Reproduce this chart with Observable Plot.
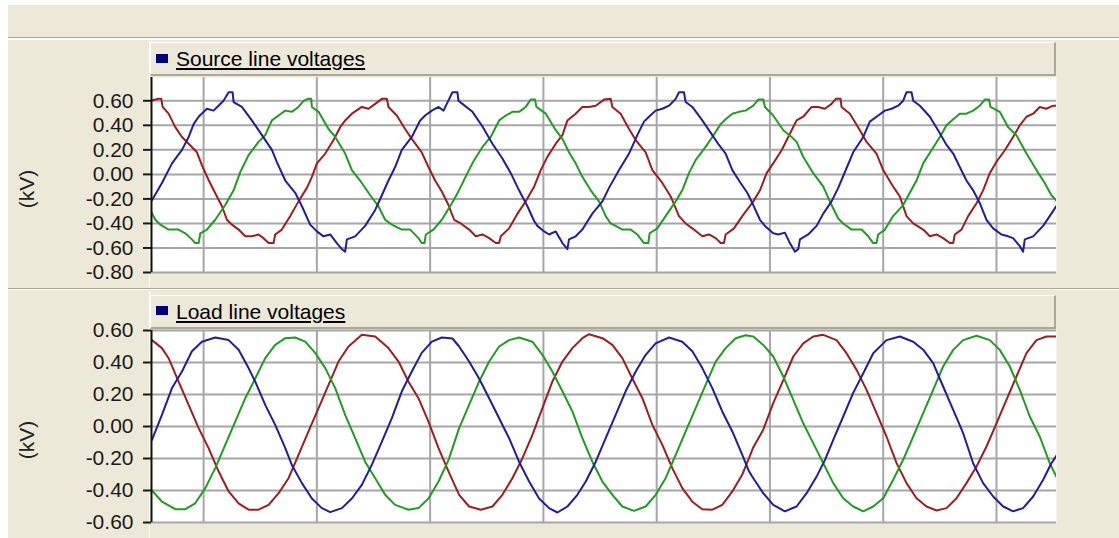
<!DOCTYPE html>
<html><head><meta charset="utf-8">
<script src="https://cdn.jsdelivr.net/npm/d3@7"></script>
<script src="https://cdn.jsdelivr.net/npm/@observablehq/plot@0.6"></script>
<style>
html,body{margin:0;padding:0;background:#fff;}
body{position:relative;width:1119px;height:538px;overflow:hidden;font-family:"Liberation Sans",Arial,sans-serif;}
.abs{position:absolute;}
#toolbar{left:8px;top:5px;width:1111px;height:32px;background:#ECE9D8;border-bottom:1px solid #ACA899;}
#p1{left:8px;top:39px;width:1111px;height:248px;background:#ECE9D8;border-top:1px solid #fff;border-bottom:1px solid #ACA899;}
#p2{left:8px;top:289px;width:1111px;height:249px;background:#ECE9D8;border-top:1px solid #fff;}
.vline{left:149px;width:1px;background:#fff;}
.hdr{left:150px;width:903px;height:31px;background:#ECE9D8;border-top:1px solid #fff;border-left:1px solid #fff;border-right:2px solid #ACA899;border-bottom:2px solid #ACA899;}
.sw{left:156px;width:12px;height:9px;background:#000080;}
.ttl{left:176px;font-size:21px;line-height:20px;color:#000;text-decoration:underline;white-space:nowrap;}
.ylab{font-size:21px;line-height:20px;color:#222;white-space:nowrap;transform:translate(-50%,-50%) rotate(-90deg);}
.chart{left:0;}
</style></head>
<body>
<div id="toolbar" class="abs"></div>
<div id="p1" class="abs"></div>
<div id="p2" class="abs"></div>
<div class="abs vline" style="top:41px;height:246px"></div>
<div class="abs vline" style="top:291px;height:247px"></div>
<div class="abs hdr" style="top:42px"></div>
<div class="abs hdr" style="top:295px"></div>
<div class="abs sw" style="top:54px"></div>
<div class="abs ttl" style="top:49px">Source line voltages</div>
<div class="abs sw" style="top:306px"></div>
<div class="abs ttl" style="top:302px">Load line voltages</div>
<div class="abs ylab" style="left:27px;top:189px">(kV)</div>
<div class="abs ylab" style="left:27px;top:440px">(kV)</div>
<div id="c1" class="abs chart" style="top:67px"></div>
<div id="c2" class="abs chart" style="top:320px"></div>
<script>
// ---- scales / ticks ----
const xDomain = [5.4, 85.3];               // time (ms)
const gridXTicks = [10, 20, 30, 40, 50, 60, 70, 80];
const sourceYDomain = [-0.8, 0.79];
const sourceYTicks = [0.6, 0.4, 0.2, 0, -0.2, -0.4, -0.6, -0.8];
const loadYDomain = [-0.6, 0.6];
const loadYTicks = [0.6, 0.4, 0.2, 0, -0.2, -0.4, -0.6];

// ---- Source line voltages (kV) : [time ms, value] ----
const sourceBlue = [[5.44,-0.21],[6.32,-0.07],[7.21,0.09],[8.09,0.20],[8.68,0.305],[9.12,0.41],[9.56,0.47],[10.29,0.535],[10.88,0.52],[11.32,0.56],[11.76,0.60],[12.21,0.67],[12.56,0.67],[12.65,0.59],[13.38,0.55],[14.26,0.44],[15.15,0.32],[16.03,0.20],[16.47,0.10],[17.21,-0.05],[18.09,-0.15],[18.68,-0.26],[19.41,-0.41],[20.00,-0.465],[20.59,-0.505],[21.18,-0.49],[21.76,-0.56],[22.21,-0.61],[22.50,-0.63],[22.65,-0.53],[23.38,-0.505],[24.26,-0.42],[25.15,-0.29],[25.74,-0.17],[26.32,-0.05],[26.91,0.06],[27.50,0.20],[28.38,0.305],[29.12,0.44],[29.56,0.48],[30.15,0.52],[30.74,0.55],[31.18,0.52],[31.47,0.575],[31.97,0.67],[32.41,0.67],[32.50,0.60],[32.85,0.575],[33.74,0.51],[34.62,0.39],[35.50,0.25],[36.38,0.13],[37.12,0.01],[37.85,-0.13],[38.59,-0.26],[39.18,-0.38],[39.47,-0.42],[40.06,-0.465],[40.50,-0.49],[41.09,-0.465],[41.68,-0.56],[42.12,-0.61],[42.26,-0.53],[42.85,-0.505],[43.44,-0.45],[44.32,-0.32],[45.21,-0.22],[45.79,-0.11],[46.68,0.035],[47.56,0.17],[48.29,0.32],[48.88,0.43],[49.32,0.47],[49.91,0.52],[50.50,0.535],[51.09,0.56],[51.68,0.616],[51.97,0.67],[52.41,0.67],[52.56,0.59],[53.15,0.55],[54.03,0.44],[54.91,0.32],[55.50,0.24],[56.09,0.17],[56.68,0.035],[57.41,-0.07],[58.00,-0.15],[58.53,-0.25],[59.12,-0.37],[59.56,-0.42],[60.29,-0.48],[60.74,-0.49],[61.32,-0.475],[61.76,-0.56],[62.21,-0.63],[62.50,-0.61],[62.65,-0.53],[63.38,-0.49],[64.12,-0.42],[64.71,-0.32],[65.44,-0.22],[66.03,-0.11],[66.76,0.05],[67.35,0.18],[68.24,0.305],[68.82,0.43],[69.56,0.48],[70.15,0.52],[70.74,0.535],[71.32,0.56],[71.76,0.60],[72.06,0.67],[72.50,0.67],[72.65,0.60],[73.24,0.56],[74.12,0.47],[75.00,0.335],[75.59,0.24],[76.18,0.17],[76.76,0.06],[77.35,-0.05],[77.94,-0.13],[78.53,-0.235],[79.12,-0.37],[79.71,-0.44],[80.44,-0.49],[81.03,-0.505],[81.47,-0.52],[82.06,-0.585],[82.35,-0.63],[82.50,-0.53],[83.24,-0.505],[84.12,-0.42],[84.85,-0.32],[85.35,-0.25]];

const sourceGreen = [[5.29,-0.29],[5.74,-0.37],[6.18,-0.41],[6.91,-0.45],[7.79,-0.45],[8.38,-0.48],[8.97,-0.53],[9.26,-0.56],[9.56,-0.56],[9.71,-0.48],[10.29,-0.45],[11.03,-0.37],[11.91,-0.25],[12.65,-0.13],[13.24,0.02],[13.97,0.157],[14.85,0.265],[15.44,0.32],[16.03,0.44],[16.62,0.48],[17.21,0.52],[17.79,0.51],[18.38,0.55],[18.82,0.60],[19.21,0.616],[19.50,0.616],[19.56,0.55],[20.15,0.51],[21.03,0.37],[21.62,0.305],[22.50,0.17],[23.09,0.035],[23.97,-0.07],[24.71,-0.17],[25.44,-0.26],[26.03,-0.37],[26.62,-0.41],[27.50,-0.45],[28.24,-0.45],[28.97,-0.52],[29.26,-0.56],[29.50,-0.56],[29.62,-0.49],[30.29,-0.45],[31.03,-0.37],[31.76,-0.26],[32.26,-0.18],[32.71,-0.10],[33.29,0.01],[33.88,0.116],[34.62,0.224],[35.35,0.305],[36.09,0.44],[36.68,0.48],[37.26,0.51],[37.85,0.51],[38.44,0.55],[38.88,0.61],[39.26,0.61],[39.38,0.55],[40.21,0.495],[41.09,0.36],[41.68,0.29],[42.26,0.18],[42.85,0.09],[43.44,-0.02],[44.18,-0.13],[44.91,-0.22],[45.50,-0.34],[45.94,-0.40],[46.38,-0.42],[46.97,-0.45],[47.71,-0.45],[48.29,-0.49],[48.88,-0.56],[49.26,-0.56],[49.38,-0.48],[50.06,-0.44],[50.79,-0.34],[51.68,-0.22],[52.26,-0.13],[52.85,0.01],[53.44,0.116],[54.32,0.224],[54.91,0.305],[55.65,0.41],[56.09,0.45],[56.68,0.495],[57.26,0.51],[57.85,0.52],[58.53,0.56],[58.97,0.61],[59.41,0.61],[59.56,0.55],[60.29,0.48],[61.18,0.36],[61.91,0.305],[62.35,0.265],[62.94,0.143],[63.82,0.01],[64.71,-0.10],[65.44,-0.25],[66.03,-0.36],[66.47,-0.40],[67.21,-0.45],[68.09,-0.45],[68.68,-0.505],[69.12,-0.56],[69.41,-0.56],[69.56,-0.49],[70.15,-0.45],[70.88,-0.34],[71.76,-0.25],[72.35,-0.15],[72.94,-0.05],[73.53,0.09],[74.26,0.197],[75.00,0.305],[75.59,0.40],[76.18,0.45],[76.76,0.495],[77.35,0.495],[77.94,0.52],[78.53,0.56],[78.97,0.61],[79.35,0.61],[79.47,0.55],[80.29,0.51],[81.03,0.385],[81.76,0.32],[82.65,0.17],[83.53,0.035],[84.26,-0.07],[84.85,-0.17],[85.35,-0.22]];

const sourceRed = [[5.29,0.60],[6.03,0.616],[6.26,0.616],[6.38,0.55],[6.91,0.495],[7.50,0.385],[8.09,0.305],[8.68,0.25],[9.41,0.18],[9.85,0.076],[10.44,-0.046],[11.03,-0.154],[11.62,-0.26],[12.06,-0.37],[12.50,-0.41],[13.09,-0.45],[13.68,-0.505],[14.26,-0.505],[14.85,-0.49],[15.29,-0.52],[15.74,-0.56],[16.18,-0.56],[16.32,-0.49],[16.91,-0.45],[17.65,-0.34],[18.38,-0.22],[19.12,-0.11],[19.56,-0.02],[20.00,0.09],[20.74,0.17],[21.47,0.28],[22.06,0.385],[22.50,0.44],[23.09,0.495],[23.97,0.55],[24.56,0.535],[25.15,0.575],[25.74,0.616],[26.18,0.616],[26.32,0.55],[27.06,0.48],[27.79,0.37],[28.38,0.29],[29.26,0.18],[29.85,0.06],[30.44,-0.05],[31.03,-0.14],[31.62,-0.25],[32.12,-0.37],[32.71,-0.40],[33.44,-0.45],[34.03,-0.505],[34.62,-0.49],[35.21,-0.52],[35.79,-0.56],[36.09,-0.56],[36.24,-0.505],[36.97,-0.44],[37.71,-0.32],[38.44,-0.22],[39.18,-0.10],[39.76,0.035],[40.35,0.143],[41.09,0.25],[41.68,0.32],[42.12,0.44],[42.85,0.495],[43.44,0.55],[44.03,0.55],[44.62,0.56],[45.35,0.61],[45.94,0.616],[46.09,0.55],[46.82,0.495],[47.56,0.37],[48.15,0.28],[49.03,0.18],[49.62,0.035],[50.50,-0.07],[51.24,-0.18],[51.97,-0.34],[52.56,-0.40],[53.29,-0.45],[54.03,-0.505],[54.62,-0.49],[55.21,-0.52],[55.65,-0.56],[55.94,-0.56],[56.09,-0.49],[56.82,-0.44],[57.56,-0.34],[58.53,-0.22],[59.12,-0.13],[59.71,0.01],[60.29,0.09],[61.03,0.197],[61.62,0.305],[62.35,0.44],[62.94,0.47],[63.68,0.55],[64.26,0.55],[64.85,0.535],[65.44,0.575],[65.82,0.616],[66.24,0.616],[66.32,0.55],[67.06,0.495],[67.94,0.36],[68.53,0.265],[69.41,0.17],[70.00,0.035],[70.88,-0.10],[71.47,-0.18],[72.06,-0.34],[72.65,-0.40],[73.53,-0.45],[74.12,-0.505],[74.71,-0.49],[75.29,-0.52],[75.88,-0.56],[76.18,-0.56],[76.32,-0.49],[76.91,-0.45],[77.50,-0.34],[78.24,-0.235],[78.82,-0.13],[79.41,0.01],[80.00,0.103],[80.74,0.197],[81.47,0.305],[82.06,0.40],[82.65,0.47],[83.24,0.495],[83.82,0.55],[84.41,0.535],[85.00,0.56],[85.35,0.56]];

// ---- Load line voltages (kV) : [time ms, value] ----
const loadBlue = [[5.44,-0.083],[6.32,0.073],[7.21,0.24],[8.09,0.344],[8.97,0.47],[9.85,0.53],[11.03,0.556],[12.21,0.54],[13.09,0.48],[13.97,0.365],[14.56,0.28],[15.44,0.135],[16.32,0.01],[17.21,-0.135],[17.79,-0.24],[18.68,-0.354],[19.56,-0.45],[20.44,-0.51],[21.18,-0.535],[22.21,-0.51],[23.09,-0.45],[23.97,-0.365],[24.85,-0.24],[25.74,-0.094],[26.62,0.052],[27.50,0.22],[28.38,0.344],[29.26,0.46],[30.15,0.53],[31.03,0.556],[31.97,0.55],[32.56,0.50],[33.44,0.406],[34.32,0.30],[35.21,0.177],[36.09,0.052],[36.97,-0.073],[37.85,-0.22],[38.74,-0.344],[39.62,-0.45],[40.50,-0.51],[41.24,-0.5375],[42.12,-0.50],[43.00,-0.427],[43.74,-0.344],[44.62,-0.22],[45.50,-0.073],[46.38,0.073],[47.26,0.22],[48.15,0.344],[49.03,0.448],[49.91,0.52],[51.09,0.556],[52.26,0.53],[53.15,0.47],[54.03,0.365],[54.91,0.24],[55.79,0.094],[56.68,-0.031],[57.56,-0.177],[58.15,-0.28],[58.53,-0.323],[59.41,-0.417],[60.29,-0.49],[61.32,-0.53],[62.35,-0.50],[63.24,-0.417],[64.12,-0.313],[64.85,-0.21],[65.59,-0.083],[66.47,0.0625],[67.35,0.21],[68.24,0.333],[69.12,0.458],[70.29,0.54],[71.47,0.5625],[72.65,0.53],[73.53,0.48],[74.41,0.396],[75.29,0.25],[76.18,0.104],[77.06,-0.042],[77.94,-0.23],[78.82,-0.354],[79.71,-0.4375],[80.59,-0.50],[81.47,-0.53],[82.35,-0.51],[83.24,-0.4375],[84.12,-0.333],[84.85,-0.23],[85.35,-0.177]];

const loadGreen = [[5.44,-0.40],[6.32,-0.47],[7.50,-0.517],[8.38,-0.517],[9.26,-0.48],[10.15,-0.385],[11.03,-0.26],[11.91,-0.115],[12.79,0.031],[13.68,0.177],[14.56,0.30],[15.44,0.427],[16.32,0.51],[17.21,0.552],[18.09,0.556],[18.97,0.53],[19.85,0.46],[20.74,0.365],[21.62,0.24],[22.50,0.073],[23.38,-0.073],[24.26,-0.22],[25.15,-0.323],[26.03,-0.427],[26.91,-0.49],[28.09,-0.52],[28.97,-0.51],[29.85,-0.45],[30.74,-0.344],[31.62,-0.21],[32.56,-0.01],[33.44,0.135],[34.32,0.28],[35.21,0.406],[36.09,0.50],[36.97,0.54],[37.85,0.556],[39.03,0.53],[39.91,0.448],[40.79,0.344],[41.68,0.22],[42.56,0.094],[43.44,-0.073],[44.32,-0.22],[45.21,-0.344],[46.09,-0.427],[46.97,-0.50],[48.00,-0.527],[49.03,-0.50],[49.91,-0.427],[50.79,-0.323],[51.68,-0.177],[52.56,-0.031],[53.44,0.115],[54.32,0.26],[55.21,0.406],[56.09,0.49],[56.97,0.552],[57.85,0.57],[58.53,0.5625],[59.41,0.51],[60.29,0.4375],[61.18,0.3125],[62.06,0.167],[62.94,0.02],[63.82,-0.104],[64.71,-0.23],[65.59,-0.354],[66.47,-0.448],[67.35,-0.50],[68.24,-0.53],[69.12,-0.50],[70.00,-0.448],[70.88,-0.333],[71.76,-0.208],[72.65,-0.0625],[73.53,0.083],[74.41,0.229],[75.29,0.375],[76.18,0.479],[77.06,0.54],[78.24,0.567],[79.41,0.54],[80.29,0.479],[81.18,0.375],[82.06,0.229],[82.94,0.0625],[83.82,-0.0625],[84.71,-0.23],[85.35,-0.323]];

const loadRed = [[5.44,0.54],[6.32,0.49],[6.91,0.427],[7.79,0.28],[8.68,0.135],[9.56,-0.01],[10.44,-0.135],[11.32,-0.28],[12.21,-0.406],[13.09,-0.48],[13.97,-0.52],[14.85,-0.52],[15.74,-0.49],[16.62,-0.417],[17.50,-0.323],[18.38,-0.177],[19.26,-0.031],[20.15,0.115],[21.03,0.26],[21.91,0.406],[22.79,0.50],[23.97,0.573],[25.15,0.5625],[26.32,0.49],[27.21,0.406],[28.09,0.28],[28.97,0.177],[29.85,0.031],[30.74,-0.135],[31.62,-0.28],[32.56,-0.427],[33.44,-0.50],[34.47,-0.52],[35.50,-0.50],[36.38,-0.427],[37.26,-0.323],[38.15,-0.198],[39.03,-0.052],[39.91,0.115],[40.79,0.28],[41.68,0.406],[42.56,0.49],[43.44,0.552],[44.03,0.577],[45.21,0.552],[46.09,0.51],[46.97,0.427],[47.85,0.30],[48.74,0.177],[49.62,0.01],[50.50,-0.115],[51.38,-0.26],[52.26,-0.385],[53.15,-0.47],[54.03,-0.517],[54.91,-0.52],[55.79,-0.49],[56.68,-0.406],[57.56,-0.30],[58.15,-0.198],[58.50,-0.135],[59.41,-0.02],[60.29,0.146],[61.18,0.29],[62.06,0.4375],[62.94,0.52],[63.82,0.5625],[64.71,0.573],[65.88,0.54],[66.76,0.458],[67.65,0.354],[68.53,0.229],[69.41,0.083],[70.29,-0.0625],[71.18,-0.229],[72.06,-0.354],[72.94,-0.448],[73.82,-0.50],[74.71,-0.525],[75.59,-0.51],[76.47,-0.448],[77.35,-0.354],[78.24,-0.25],[79.12,-0.125],[80.00,0.02],[80.88,0.167],[81.76,0.3125],[82.65,0.458],[83.53,0.54],[84.41,0.5625],[85.35,0.5625]];

const BLUE = "#1e1e9e", RED = "#9e1e1e", GREEN = "#1e9e1e";

function panel(series, yDomain, yTicks, height) {
  return Plot.plot({
    width: 1060, height,
    marginLeft: 151, marginRight: 4, marginTop: 10, marginBottom: 10,
    style: {background: "transparent", overflow: "visible", fontFamily: "'Liberation Sans', Arial, sans-serif"},
    x: {domain: xDomain, axis: null},
    y: {domain: yDomain},
    marks: [
      Plot.frame({fill: "white", stroke: "none"}),
      Plot.ruleY(yTicks, {stroke: "#a6a6a6", strokeWidth: 2}),
      Plot.ruleX(gridXTicks, {stroke: "#a6a6a6", strokeWidth: 2}),
      ...series.map(([data, color]) => Plot.line(data, {x: d => d[0], y: d => d[1], stroke: color, strokeWidth: 2, clip: true})),
      Plot.ruleX([xDomain[0]], {stroke: "#111", strokeWidth: 2}),
      Plot.axisY({ticks: yTicks, tickSize: 8, tickPadding: 10, tickFormat: d => d.toFixed(2), fontSize: 21, color: "#1a1a1a", strokeWidth: 2, label: null})
    ]
  });
}

document.getElementById("c1").append(panel([[sourceRed, RED], [sourceGreen, GREEN], [sourceBlue, BLUE]], sourceYDomain, sourceYTicks, 215));
document.getElementById("c2").append(panel([[loadRed, RED], [loadGreen, GREEN], [loadBlue, BLUE]], loadYDomain, loadYTicks, 212));
</script>
</body></html>
